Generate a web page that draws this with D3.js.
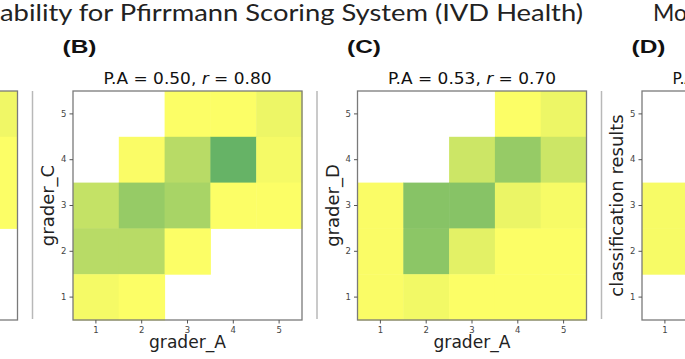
<!DOCTYPE html>
<html>
<head>
<meta charset="utf-8">
<script src="https://cdn.jsdelivr.net/npm/d3@7"></script>
<style>
  body { margin: 0; background: #fff; }
  svg { display: block; }
</style>
</head>
<body>
<script>
// grades on both axes
const grades = [1, 2, 3, 4, 5];

// counts, rows from grade 5 (top) down to grade 1, columns grade 1..5
// null = cell lies outside the cropped picture
const countsA = [
  [null, null, null, null, 6],
  [null, null, null, null, 1],
  [null, null, null, null, 1],
  [null, null, null, null, 0],
  [null, null, null, null, 0]
];
const countsB = [
  [0, 0, 1, 1, 7],
  [0, 2, 28, 60, 4],
  [23, 41, 34, 1, 1],
  [28, 28, 1, 0, 0],
  [4, 1, 0, 0, 0]
];
const countsC = [
  [0, 0, 0, 1, 7],
  [0, 0, 20, 41, 20],
  [2, 47, 47, 8, 3],
  [2, 45, 11, 1, 1],
  [2, 5, 1, 1, 1]
];
const countsD = [
  [0, null, null, null, null],
  [0, null, null, null, null],
  [3, null, null, null, null],
  [3, null, null, null, null],
  [0, null, null, null, null]
];

const panelTags = ['', '(B)', '(C)', '(D)'];
const panelTitles = ['', 'P.A = 0.50, r = 0.80', 'P.A = 0.53, r = 0.70', 'P.A ='];
const xLabels = ['', 'grader_A', 'grader_A', ''];
const yLabels = ['', 'grader_C', 'grader_D', 'classification results'];

const width = 685, height = 359;
const axW = 229, axH = 229, axTop = 91;
const lefts = [-211.5, 73, 357.5, 642];

const svg = d3.select('body').append('svg')
  .attr('width', width)
  .attr('height', height);

svg.append('rect').attr('width', width).attr('height', height).attr('fill', '#fff');

// figure heading, cropped on both sides
svg.append('text')
  .attr('x', 0).attr('y', 21)
  .attr('textLength', 583).attr('lengthAdjust', 'spacingAndGlyphs')
  .style('font-family', 'Lato, "Open Sans", sans-serif')
  .style('font-size', '23px')
  .style('fill', '#222')
  .text('ability for Pfirrmann Scoring System (IVD Health)');

svg.append('text')
  .attr('x', 653).attr('y', 21)
  .style('font-family', 'Lato, "Open Sans", sans-serif')
  .style('font-size', '23px')
  .style('fill', '#222')
  .text('Model performance');

const color = d3.scaleSequential(d3.interpolateRgb('#ffff66', '#008066')).domain([0, 100]);

const allCounts = [countsA, countsB, countsC, countsD];

allCounts.forEach((counts, p) => {
  const left = lefts[p];
  const x = d3.scaleBand().domain(grades).range([left, left + axW]);
  const y = d3.scaleBand().domain(grades.slice().reverse()).range([axTop, axTop + axH]);

  const cells = [];
  counts.forEach((row, r) => {
    row.forEach((v, c) => {
      if (v) cells.push({ gx: grades[c], gy: grades[4 - r], v: v });
    });
  });

  const g = svg.append('g');

  g.selectAll('rect.cell')
    .data(cells)
    .join('rect')
    .attr('class', 'cell')
    .attr('x', d => x(d.gx))
    .attr('y', d => y(d.gy))
    .attr('width', x.bandwidth() + 0.5)
    .attr('height', y.bandwidth() + 0.5)
    .attr('fill', d => color(d.v));

  g.append('rect')
    .attr('x', left).attr('y', axTop)
    .attr('width', axW).attr('height', axH)
    .attr('fill', 'none')
    .attr('stroke', '#7a7a7a')
    .attr('stroke-width', 1.3);

  const xAxis = g.append('g')
    .attr('transform', `translate(0,${axTop + axH})`)
    .call(d3.axisBottom(x).tickSize(3.5).tickPadding(3));
  const yAxis = g.append('g')
    .attr('transform', `translate(${left},0)`)
    .call(d3.axisLeft(y).tickSize(3.5).tickPadding(3));

  [xAxis, yAxis].forEach(a => {
    a.select('.domain').remove();
    a.selectAll('line').attr('stroke', '#555');
    a.selectAll('text')
      .style('font-family', '"DejaVu Sans", sans-serif')
      .style('font-size', '8.5px')
      .style('fill', '#444');
  });

  if (p === 0) return;

  // separator line left of the panel
  svg.append('line')
    .attr('x1', left - 40.5).attr('x2', left - 40.5)
    .attr('y1', axTop).attr('y2', axTop + axH - 1)
    .attr('stroke', '#b8b8b8')
    .attr('stroke-width', 1.5);

  svg.append('text')
    .attr('x', left - 10.5).attr('y', 53)
    .attr('textLength', 34).attr('lengthAdjust', 'spacingAndGlyphs')
    .style('font-family', '"Liberation Sans", Arial, sans-serif')
    .style('font-weight', 'bold')
    .style('font-size', '19px')
    .style('fill', '#111')
    .text(panelTags[p]);

  const title = svg.append('text')
    .attr('x', left + axW / 2 - 84).attr('y', 84)
    .style('font-family', '"DejaVu Sans", sans-serif')
    .style('font-size', '15.5px')
    .style('fill', '#111');
  if (p < 3) title.attr('textLength', 168).attr('lengthAdjust', 'spacingAndGlyphs');
  const parts = panelTitles[p].split('r =');
  title.append('tspan').text(parts[0]);
  if (parts.length > 1) {
    title.append('tspan').style('font-style', 'italic').text('r');
    title.append('tspan').text(' =' + parts[1]);
  }

  if (xLabels[p]) {
    svg.append('text')
      .attr('x', left + axW / 2).attr('y', 348)
      .attr('text-anchor', 'middle')
      .attr('textLength', 77).attr('lengthAdjust', 'spacingAndGlyphs')
      .style('font-family', '"DejaVu Sans", sans-serif')
      .style('font-size', '18px')
      .style('fill', '#222')
      .text(xLabels[p]);
  }

  svg.append('text')
    .attr('transform', `translate(${left - 19},${axTop + axH / 2}) rotate(-90)`)
    .attr('text-anchor', 'middle')
    .style('font-family', '"DejaVu Sans", sans-serif')
    .style('font-size', '18px')
    .style('fill', '#222')
    .text(yLabels[p]);
});
</script>
</body>
</html>
